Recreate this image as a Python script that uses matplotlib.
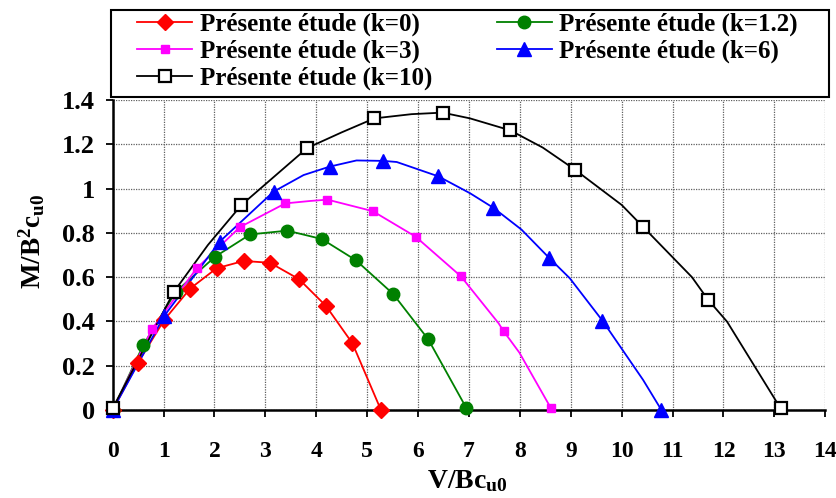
import matplotlib
matplotlib.use("Agg")
import matplotlib.pyplot as plt
from matplotlib.patches import Rectangle

plt.rcParams["font.family"] = ["Liberation Serif", "DejaVu Serif"]
plt.rcParams["font.weight"] = "bold"
plt.rcParams["mathtext.fontset"] = "custom"
plt.rcParams["mathtext.rm"] = "Liberation Serif:bold"
plt.rcParams["mathtext.it"] = "Liberation Serif:bold"
plt.rcParams["mathtext.bf"] = "Liberation Serif:bold"
plt.rcParams["mathtext.default"] = "rm"

# ---- data: markers (computed points) ----
k0_x = [0, 0.49, 1.01, 1.52, 2.04, 2.57, 3.09, 3.66, 4.19, 4.71, 5.27]
k0_y = [0, 0.211, 0.406, 0.548, 0.640, 0.673, 0.665, 0.591, 0.470, 0.301, 0.0]

k12_x = [0, 0.60, 1.24, 2.01, 2.70, 3.43, 4.11, 4.78, 5.51, 6.20, 6.95]
k12_y = [0, 0.293, 0.534, 0.692, 0.793, 0.810, 0.772, 0.676, 0.524, 0.319, 0.008]

k3_x = [0, 0.77, 1.65, 2.50, 3.39, 4.22, 5.11, 5.95, 6.84, 7.68, 8.61]
k3_y = [0, 0.364, 0.640, 0.826, 0.933, 0.950, 0.898, 0.783, 0.604, 0.356, 0.008]

k6_x = [0, 1.01, 2.10, 3.16, 4.26, 5.32, 6.40, 7.48, 8.57, 9.62, 10.78]
k6_y = [0, 0.424, 0.760, 0.986, 1.099, 1.125, 1.055, 0.913, 0.688, 0.404, 0.0]

k10_x = [0, 1.20, 2.53, 3.82, 5.14, 6.48, 7.81, 9.09, 10.42, 11.70, 13.12]
k10_y = [0.008, 0.533, 0.926, 1.183, 1.317, 1.343, 1.263, 1.084, 0.827, 0.497, 0.008]

# ---- data: fitted curves through the points ----
k0_cx, k0_cy = k0_x, k0_y
k12_cx, k12_cy = k12_x, k12_y

k3_cx = [0, 0.77, 1.65, 2.50, 3.39, 3.88, 4.22, 5.11, 5.95, 6.84, 7.58, 7.68, 7.99, 8.61]
k3_cy = [0, 0.364, 0.640, 0.826, 0.933, 0.944, 0.950, 0.898, 0.783, 0.604, 0.392, 0.356, 0.259, 0.008]

k6_cx = [0, 1.01, 2.10, 3.16, 3.75, 4.26, 4.79, 5.32, 5.58, 6.40, 7.02, 7.48, 8.03, 8.57, 8.98, 9.62, 10.42, 10.78]
k6_cy = [0, 0.424, 0.760, 0.986, 1.061, 1.099, 1.127, 1.125, 1.120, 1.055, 0.979, 0.913, 0.815, 0.688, 0.595, 0.404, 0.136, 0.0]

k10_cx = [0, 1.20, 1.87, 2.53, 3.82, 4.50, 5.14, 5.87, 6.48, 7.02, 7.81, 8.45, 9.09, 10.00, 10.42, 11.38, 11.70, 12.07, 13.12]
k10_cy = [0.008, 0.533, 0.745, 0.926, 1.183, 1.254, 1.317, 1.336, 1.343, 1.317, 1.263, 1.185, 1.084, 0.926, 0.827, 0.600, 0.497, 0.399, 0.008]

labels = ["Présente étude (k=0)", "Présente étude (k=1.2)", "Présente étude (k=3)",
          "Présente étude (k=6)", "Présente étude (k=10)"]

x_ticks = list(range(0, 15))
y_ticks = [0, 0.2, 0.4, 0.6, 0.8, 1.0, 1.2, 1.4]
y_tick_labels = ["0", "0.2", "0.4", "0.6", "0.8", "1", "1.2", "1.4"]

W, H = 837, 498
fig = plt.figure(figsize=(W / 100, H / 100), dpi=100)
ax = fig.add_axes([112.7 / W, (H - 410) / H, 712.6 / W, 310 / H])

series = [
    (k0_cx, k0_cy, k0_x, k0_y, dict(color="#ff0000", marker="D", ms=8, mfc="#ff0000", mec="#ff0000")),
    (k12_cx, k12_cy, k12_x, k12_y, dict(color="#008000", marker="o", ms=9, mfc="#008000", mec="#008000")),
    (k3_cx, k3_cy, k3_x, k3_y, dict(color="#ff00ff", marker="s", ms=5.5, mfc="#ff00ff", mec="#ff00ff")),
    (k6_cx, k6_cy, k6_x, k6_y, dict(color="#0000ff", marker="^", ms=10, mfc="#0000ff", mec="#0000ff")),
    (k10_cx, k10_cy, k10_x, k10_y, dict(color="#000000", marker="s", ms=8.5, mfc="white", mec="#000000", mew=1.6)),
]

handles = []
for (cx, cy, mx, my, st), lab in zip(series, labels):
    ax.plot(cx, cy, color=st["color"], lw=1.3, zorder=3)
    ax.plot(mx, my, ls="none", marker=st["marker"], ms=st["ms"], mfc=st["mfc"],
            mec=st["mec"], mew=st.get("mew", 1.0), zorder=4, clip_on=False)
    h, = ax.plot([], [], color=st["color"], lw=1.3, marker=st["marker"], ms=st["ms"],
                 mfc=st["mfc"], mec=st["mec"], mew=st.get("mew", 1.0), label=lab)
    handles.append(h)

ax.set_xlim(0, 14)
ax.set_ylim(0, 1.4)
ax.set_xticks(x_ticks)
ax.set_xticklabels([str(t) for t in x_ticks])
ax.set_yticks(y_ticks)
ax.set_yticklabels(y_tick_labels)

ax.grid(True, color="#606060", ls=(0, (1, 1)), lw=0.9)
ax.set_axisbelow(True)
for s in ["top", "right"]:
    ax.spines[s].set_visible(False)
for s in ["left", "bottom"]:
    ax.spines[s].set_linewidth(1.8)
    ax.spines[s].set_zorder(2)

ax.tick_params(axis="x", direction="out", length=5, width=1.3, pad=17, labelsize=17)
ax.tick_params(axis="y", direction="out", length=5, width=1.3, pad=8, labelsize=19)
for lab in ax.get_xticklabels() + ax.get_yticklabels():
    lab.set_fontweight("bold")

ax.set_xlabel("V/Bc$_{u0}$", fontsize=20, fontweight="bold")
ax.xaxis.set_label_coords(0.498, -0.252)
ax.xaxis.label.set_va("baseline")
ax.set_ylabel("M/B$^{2}$c$_{u0}$", fontsize=19.5, fontweight="bold")
ax.yaxis.set_label_coords(-0.113, 0.545)
ax.yaxis.label.set_va("center")

# legend box drawn as a figure rectangle, entries placed inside it (row-wise order)
fig.patches.append(Rectangle((111 / W, (H - 97) / H), (829 - 111) / W, 87 / H,
                             transform=fig.transFigure, fill=True, facecolor="white",
                             edgecolor="black", lw=1.5, zorder=5))
leg_order = [0, 2, 4, 1, 3]
leg = fig.legend(handles=[handles[i] for i in leg_order], loc="upper left",
                 bbox_to_anchor=(137 / W, (H - 13) / H),
                 ncol=2, frameon=False, handlelength=2.2, handletextpad=0.3,
                 borderpad=0, borderaxespad=0, labelspacing=0.13, columnspacing=2.6,
                 prop={"family": "Liberation Serif", "weight": "bold", "size": 18})
leg.set_zorder(6)

fig.savefig("out.png", dpi=100)
